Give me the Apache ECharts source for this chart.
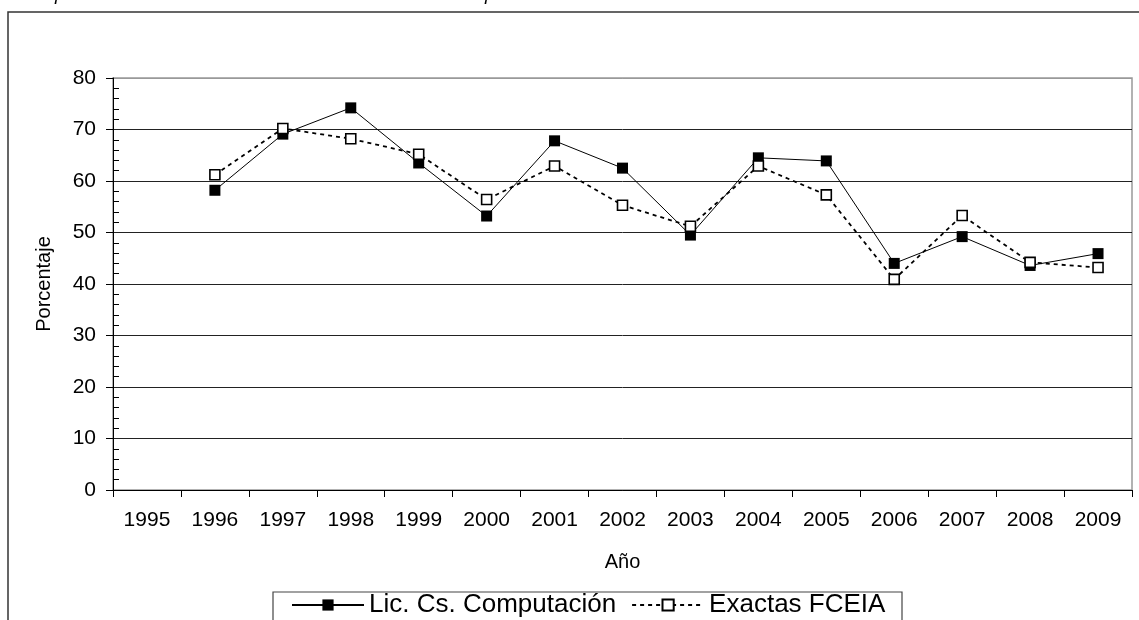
<!DOCTYPE html>
<html>
<head>
<meta charset="utf-8">
<script src="https://cdn.jsdelivr.net/npm/echarts@6/dist/echarts.min.js"></script>
<style>
html,body{margin:0;padding:0;background:#fff;}
#chart{width:1139px;height:620px;}
</style>
</head>
<body>
<div id="chart"></div>
<script>
const years = ['1995','1996','1997','1998','1999','2000','2001','2002','2003','2004','2005','2006','2007','2008','2009'];
const licCsComputacion = [null, 58.2, 69.1, 74.2, 63.5, 53.2, 67.8, 62.5, 49.5, 64.5, 63.9, 44.0, 49.2, 43.6, 45.9];
const exactasFCEIA = [null, 61.2, 70.2, 68.2, 65.2, 56.4, 62.9, 55.3, 51.2, 62.9, 57.3, 40.9, 53.3, 44.2, 43.2];
const yTicks = [0, 10, 20, 30, 40, 50, 60, 70, 80];
const seriesNames = ['Lic. Cs. Computación', 'Exactas FCEIA'];
const xName = 'Año';
const yName = 'Porcentaje';

const FONT = "'Liberation Sans', Arial, sans-serif";
const chart = echarts.init(document.getElementById('chart'), null, {renderer: 'canvas'});
const splitColors = yTicks.map((v, i) => i === yTicks.length - 1 ? '#999' : '#222');

chart.setOption({
  animation: false,
  backgroundColor: '#fff',
  graphic: [
    {type: 'rect', shape: {x: 8, y: 12, width: 1150, height: 640}, style: {fill: 'none', stroke: '#333', lineWidth: 1.5}, z: 0},
    {type: 'rect', shape: {x: 273, y: 592, width: 629, height: 60}, style: {fill: 'none', stroke: '#444', lineWidth: 1.2}, z: 0},
    {type: 'text', left: 55, top: -15, style: {text: 'p', font: 'italic 19px ' + FONT, fill: '#000'}},
    {type: 'text', left: 485, top: -15, style: {text: 'p', font: 'italic 19px ' + FONT, fill: '#000'}}
  ],
  grid: {left: 113, right: 7, top: 78, bottom: 130, show: true, borderColor: '#999', borderWidth: 1.5, backgroundColor: 'transparent'},
  legend: {
    left: 273, top: 592,
    padding: [0, 10, 0, 18],
    itemWidth: 72, itemHeight: 14, itemGap: 15,
    textStyle: {fontFamily: FONT, fontSize: 26, lineHeight: 18, color: '#000'},
    data: seriesNames
  },
  xAxis: {
    type: 'category',
    data: years,
    boundaryGap: true,
    name: xName, nameLocation: 'middle', nameGap: 62,
    nameTextStyle: {fontFamily: FONT, fontSize: 20, color: '#000'},
    axisLine: {lineStyle: {color: '#000', width: 1}},
    axisTick: {show: true, length: 7, interval: 0, lineStyle: {color: '#000'}},
    axisLabel: {fontFamily: FONT, fontSize: 21, color: '#000', margin: 20, interval: 0},
    splitLine: {show: false}
  },
  yAxis: [{
    type: 'value', min: 0, max: 80, interval: 10,
    name: yName, nameLocation: 'middle', nameGap: 59, nameRotate: 90,
    nameTextStyle: {fontFamily: FONT, fontSize: 20, color: '#000'},
    axisLine: {show: true, lineStyle: {color: '#000', width: 1}},
    axisTick: {show: true, length: 7, lineStyle: {color: '#000'}},
    axisLabel: {fontFamily: FONT, fontSize: 21, color: '#000', margin: 17},
    splitLine: {show: true, lineStyle: {color: splitColors, width: 1}}
  }, {
    type: 'value', min: 0, max: 80, interval: 10, position: 'left', offset: 0,
    axisLine: {show: false},
    axisTick: {show: false, inside: true},
    minorTick: {show: true, splitNumber: 5, length: 6, lineStyle: {color: '#000'}},
    axisLabel: {show: false},
    splitLine: {show: false}
  }],
  series: [{
    name: seriesNames[0], type: 'line', data: licCsComputacion, yAxisIndex: 0,
    symbol: 'rect', symbolSize: 11, showSymbol: true,
    lineStyle: {color: '#000', width: 1},
    itemStyle: {color: '#000', borderColor: '#000', borderWidth: 0},
    z: 3
  }, {
    name: seriesNames[1], type: 'line', data: exactasFCEIA, yAxisIndex: 0,
    symbol: 'rect', symbolSize: 10, showSymbol: true,
    lineStyle: {color: '#000', width: 1.8, type: [4, 4]},
    itemStyle: {color: '#fff', borderColor: '#000', borderWidth: 1.6},
    z: 4
  }]
});
</script>
</body>
</html>
